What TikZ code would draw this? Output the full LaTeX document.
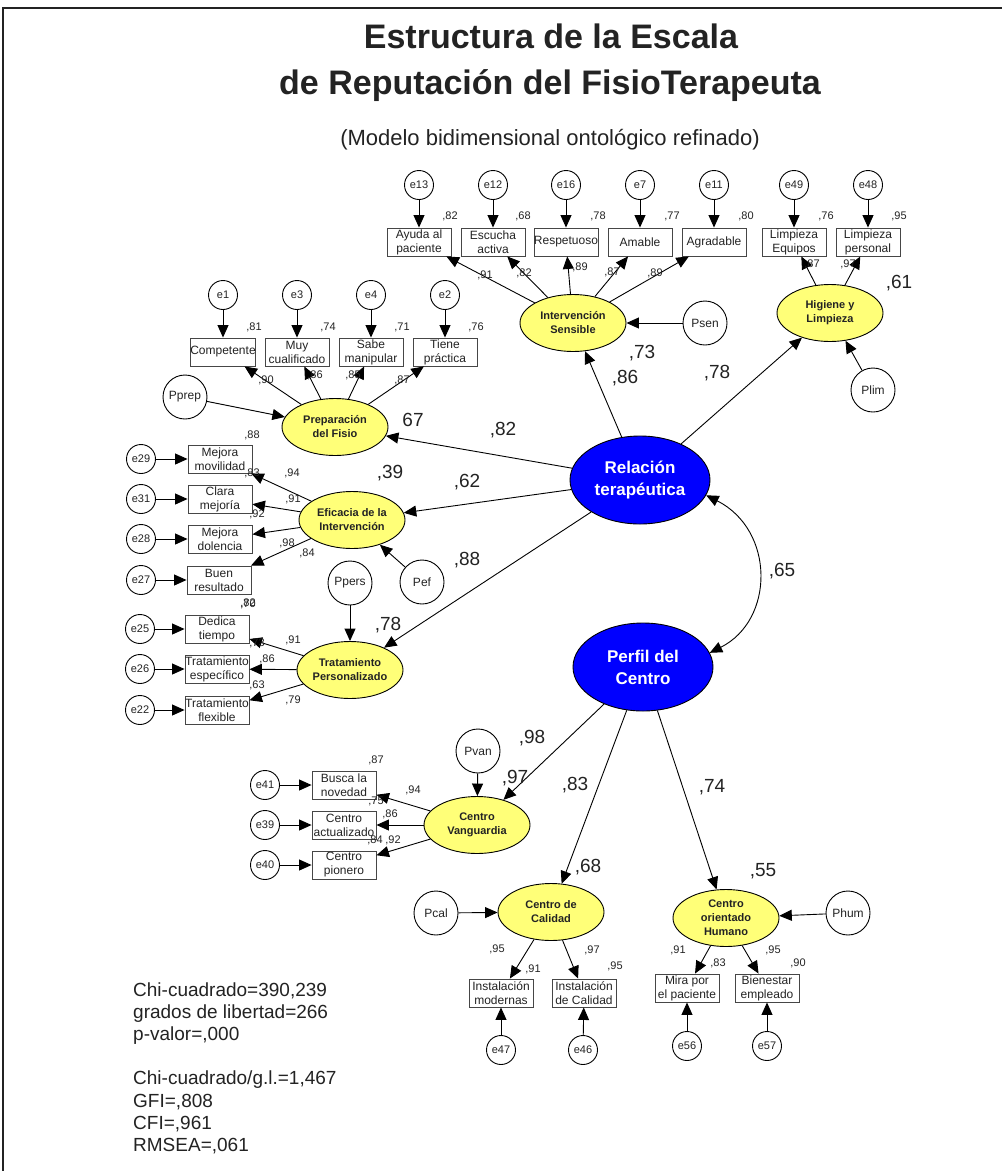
\documentclass[tikz,border=0pt]{standalone}
\usepackage{fontspec}
\setmainfont{Liberation Sans}
\usetikzlibrary{arrows.meta,shapes.geometric}
\definecolor{latfill}{RGB}{255,255,120}
\definecolor{ink}{RGB}{35,35,35}
\definecolor{boxline}{RGB}{70,70,70}

\begin{document}
\begin{tikzpicture}[x=1pt,y=-1pt,
  arr/.style={-{Triangle[length=12.5pt,width=11pt]}, line width=0.9pt, black},
  dbl/.style={{Triangle[length=12.5pt,width=11pt]}-{Triangle[length=12.5pt,width=11pt]}, line width=0.9pt, black},
  lat/.style={ellipse, draw=black, line width=0.9pt, fill=latfill, minimum width=106pt, minimum height=57pt,
    inner sep=0pt, align=center, text=ink, font=\fontsize{11}{14}\selectfont\bfseries},
  big/.style={ellipse, draw=black, line width=0.9pt, fill=blue, minimum width=140pt, minimum height=88pt,
    inner sep=0pt, align=center, text=white, font=\fontsize{17}{22}\selectfont\bfseries},
  obs/.style={rectangle, draw=boxline, line width=0.9pt, fill=white, minimum width=64pt, minimum height=28pt,
    inner sep=0pt, align=center, text=ink, font=\fontsize{12}{14}\selectfont},
  err/.style={circle, draw=black, line width=0.9pt, fill=white, minimum size=29pt, inner sep=0pt,
    text=ink, font=\fontsize{11}{13}\selectfont},
  dist/.style={circle, draw=black, line width=0.9pt, fill=white, minimum size=44pt, inner sep=0pt,
    text=ink, font=\fontsize{12}{14}\selectfont},
  lab/.style={inner sep=0pt, text=ink, font=\fontsize{11}{13}\selectfont},
  blab/.style={inner sep=0pt, text=ink, font=\fontsize{19}{22}\selectfont},
  stat/.style={inner sep=0pt, anchor=base west, text=ink, font=\fontsize{19}{22}\selectfont},
]
\useasboundingbox (0,0) rectangle (1002,1171);
\fill[white] (0,0) rectangle (1002,1171);
\draw[line width=1.6pt, ink] (3,1200) -- (3,8) -- (1030,8);

% ---------- title ----------
\node[inner sep=0pt, anchor=base, text=ink, font=\fontsize{34}{40}\selectfont\bfseries] (t1) at (551,48) {Estructura de la Escala};
\node[inner sep=0pt, anchor=base, text=ink, font=\fontsize{34}{40}\selectfont\bfseries] (t2) at (550,94) {de Reputación del FisioTerapeuta};
\node[inner sep=0pt, anchor=base, text=ink, font=\fontsize{22}{26}\selectfont] (t3) at (550,145) {(Modelo bidimensional ontológico refinado)};

% ---------- second-order factors ----------
\node[big] (RT) at (640,480) {Relación\\terapéutica};
\node[big] (PC) at (643,667) {Perfil del\\Centro};

% ---------- Intervención Sensible ----------
\node[lat] (IS) at (573,323) {Intervención\\Sensible};
\node[obs] (ay) at (419,242) {Ayuda al\\paciente};
\node[obs] (es) at (493,242) {Escucha\\activa};
\node[obs] (rs) at (566,242) {Respetuoso};
\node[obs] (am) at (640,242) {Amable};
\node[obs] (ag) at (714,242) {Agradable};
\node[err] (e13) at (419,185) {e13};
\node[err] (e12) at (493,185) {e12};
\node[err] (e16) at (566,185) {e16};
\node[err] (e7) at (640,185) {e7};
\node[err] (e11) at (714,185) {e11};
\node[dist] (Psen) at (705,323) {Psen};
\foreach \e/\b in {e13/ay,e12/es,e16/rs,e7/am,e11/ag} \draw[arr] (\e) -- (\b);
\foreach \b in {ay,es,rs,am,ag} \draw[arr] (IS) -- (\b);
\draw[arr] (Psen) -- (IS);
\node[lab] at (450,216) {,82};
\node[lab] at (523,216) {,68};
\node[lab] at (598,216) {,78};
\node[lab] at (672,216) {,77};
\node[lab] at (746,216) {,80};
\node[lab] at (485,275) {,91};
\node[lab] at (524,273) {,82};
\node[lab] at (580,267) {,89};
\node[lab] at (612,272) {,87};
\node[lab] at (655,273) {,89};

% ---------- Higiene y Limpieza ----------
\node[lat] (HL) at (830,313) {Higiene y\\Limpieza};
\node[obs] (le) at (794,242) {Limpieza\\Equipos};
\node[obs] (lp) at (868,242) {Limpieza\\personal};
\node[err] (e49) at (794,185) {e49};
\node[err] (e48) at (868,185) {e48};
\node[dist] (Plim) at (873,390) {Plim};
\draw[arr] (e49) -- (le);
\draw[arr] (e48) -- (lp);
\draw[arr] (HL) -- (le);
\draw[arr] (HL) -- (lp);
\draw[arr] (Plim) -- (HL);
\node[lab] at (826,216) {,76};
\node[lab] at (899,216) {,95};
\node[lab] at (812,264) {,87};
\node[lab] at (848,264) {,97};
\node[blab] at (899,283) {,61};

% ---------- Preparación del Fisio ----------
\node[lat] (PF) at (335,427) {Preparación\\del Fisio};
\node[obs] (co) at (223,352) {Competente};
\node[obs] (mc) at (297,352) {Muy\\cualificado};
\node[obs] (sm) at (371,352) {Sabe\\manipular};
\node[obs] (tp) at (445,352) {Tiene\\práctica};
\node[err] (e1) at (223,295) {e1};
\node[err] (e3) at (297,295) {e3};
\node[err] (e4) at (371,295) {e4};
\node[err] (e2) at (445,295) {e2};
\node[dist] (Pprep) at (185,397) {Pprep};
\foreach \e/\b in {e1/co,e3/mc,e4/sm,e2/tp} \draw[arr] (\e) -- (\b);
\foreach \b in {co,mc,sm,tp} \draw[arr] (PF) -- (\b);
\draw[arr] (Pprep) -- (PF);
\node[lab] at (254,327) {,81};
\node[lab] at (328,327) {,74};
\node[lab] at (402,327) {,71};
\node[lab] at (476,327) {,76};
\node[lab] at (266,380) {,90};
\node[lab] at (315,375) {,86};
\node[lab] at (353,375) {,85};
\node[lab] at (402,380) {,87};
\node[blab] at (413,420) {67};
\node[blab] at (503,430) {,82};

% ---------- Eficacia de la Intervención ----------
\node[lat] (EI) at (352,520) {Eficacia de la\\Intervención};
\node[obs] (mm) at (220,459) {Mejora\\movilidad};
\node[obs] (cm) at (220,499) {Clara\\mejoría};
\node[obs] (md) at (220,539) {Mejora\\dolencia};
\node[obs] (br) at (219,580) {Buen\\resultado};
\node[err] (e29) at (141,459) {e29};
\node[err] (e31) at (141,499) {e31};
\node[err] (e28) at (141,539) {e28};
\node[err] (e27) at (141,580) {e27};
\node[dist] (Pef) at (422,582) {Pef};
\foreach \e/\b in {e29/mm,e31/cm,e28/md,e27/br} \draw[arr] (\e) -- (\b);
\foreach \b in {mm,cm,md,br} \draw[arr] (EI) -- (\b);
\draw[arr] (Pef) -- (EI);
\node[lab] at (252,435) {,88};
\node[lab] at (292,473) {,94};
\node[lab] at (252,473) {,83};
\node[lab] at (293,499) {,91};
\node[lab] at (257,514) {,92};
\node[lab] at (287,543) {,98};
\node[lab] at (307,553) {,84};
\node[blab] at (390,473) {,39};
\node[blab] at (467,482) {,62};
\node[blab] at (467,560) {,88};

% ---------- Tratamiento Personalizado ----------
\node[lat] (TP) at (350,670) {Tratamiento\\Personalizado};
\node[obs] (dt) at (217,629) {Dedica\\tiempo};
\node[obs] (te) at (217,669) {Tratamiento\\específico};
\node[obs] (tf) at (217,710) {Tratamiento\\flexible};
\node[err] (e25) at (140,629) {e25};
\node[err] (e26) at (140,669) {e26};
\node[err] (e22) at (140,710) {e22};
\node[dist] (Ppers) at (350,583) {Ppers};
\foreach \e/\b in {e25/dt,e26/te,e22/tf} \draw[arr] (\e) -- (\b);
\foreach \b in {dt,te,tf} \draw[arr] (TP) -- (\b);
\draw[arr] (Ppers) -- (TP);
\node[lab] at (248,603) {,82};
\node[lab] at (248,604) {,70};
\node[lab] at (257,643) {,73};
\node[lab] at (293,640) {,91};
\node[lab] at (267,659) {,86};
\node[lab] at (257,685) {,63};
\node[lab] at (293,700) {,79};
\node[blab] at (388,625) {,78};

% ---------- Relación terapéutica paths ----------
\draw[arr] (RT) -- (IS);
\draw[arr] (RT) -- (HL);
\draw[arr] (RT) -- (PF);
\draw[arr] (RT) -- (EI);
\draw[arr] (RT) -- (TP);
\node[blab] at (642,353) {,73};
\node[blab] at (625,378) {,86};
\node[blab] at (717,373) {,78};

% covariance between the second-order factors
\draw[dbl] (RT.-13) .. controls (775,530) and (775,620) .. (PC.12);
\node[blab] at (782,571) {,65};

% ---------- Centro Vanguardia ----------
\node[lat] (CV) at (477,825) {Centro\\Vanguardia};
\node[obs] (bn) at (344,785) {Busca la\\novedad};
\node[obs] (ca) at (344,825) {Centro\\actualizado};
\node[obs] (cp) at (344,865) {Centro\\pionero};
\node[err] (e41) at (265,785) {e41};
\node[err] (e39) at (265,825) {e39};
\node[err] (e40) at (265,865) {e40};
\node[dist] (Pvan) at (478,751) {Pvan};
\foreach \e/\b in {e41/bn,e39/ca,e40/cp} \draw[arr] (\e) -- (\b);
\foreach \b in {bn,ca,cp} \draw[arr] (CV) -- (\b);
\draw[arr] (Pvan) -- (CV);
\node[lab] at (376,760) {,87};
\node[lab] at (413,790) {,94};
\node[lab] at (376,801) {,75};
\node[lab] at (390,814) {,86};
\node[lab] at (375,840) {,84};
\node[lab] at (393,840) {,92};

% ---------- Centro de Calidad ----------
\node[lat] (CC) at (551,912) {Centro de\\Calidad};
\node[obs] (im) at (501,993) {Instalación\\modernas};
\node[obs] (ic) at (584,993) {Instalación\\de Calidad};
\node[err] (e47) at (501,1050) {e47};
\node[err] (e46) at (583,1050) {e46};
\node[dist] (Pcal) at (436,913) {Pcal};
\draw[arr] (e47) -- (im);
\draw[arr] (e46) -- (ic);
\draw[arr] (CC) -- (im);
\draw[arr] (CC) -- (ic);
\draw[arr] (Pcal) -- (CC);
\node[lab] at (497,949) {,95};
\node[lab] at (533,969) {,91};
\node[lab] at (592,950) {,97};
\node[lab] at (615,966) {,95};

% ---------- Centro orientado Humano ----------
\node[lat] (CH) at (726,918) {Centro\\orientado\\Humano};
\node[obs] (mp) at (687,988) {Mira por\\el paciente};
\node[obs] (be) at (767,988) {Bienestar\\empleado};
\node[err] (e56) at (687,1046) {e56};
\node[err] (e57) at (767,1046) {e57};
\node[dist] (Phum) at (848,913) {Phum};
\draw[arr] (e56) -- (mp);
\draw[arr] (e57) -- (be);
\draw[arr] (CH) -- (mp);
\draw[arr] (CH) -- (be);
\draw[arr] (Phum) -- (CH);
\node[lab] at (678,950) {,91};
\node[lab] at (718,963) {,83};
\node[lab] at (773,950) {,95};
\node[lab] at (798,963) {,90};

% ---------- Perfil del Centro paths ----------
\draw[arr] (PC) -- (CV);
\draw[arr] (PC) -- (CC);
\draw[arr] (PC) -- (CH);
\node[blab] at (532,738) {,98};
\node[blab] at (515,778) {,97};
\node[blab] at (575,785) {,83};
\node[blab] at (712,787) {,74};
\node[blab] at (588,867) {,68};
\node[blab] at (763,871) {,55};

% ---------- fit indices ----------
\node[stat] (s1) at (133,996) {Chi-cuadrado=390,239};
\node[stat] (s2) at (133,1018) {grados de libertad=266};
\node[stat] (s3) at (133,1040) {p-valor=,000};
\node[stat] (s4) at (133,1084) {Chi-cuadrado/g.l.=1,467};
\node[stat] (s5) at (133,1107) {GFI=,808};
\node[stat] (s6) at (133,1129) {CFI=,961};
\node[stat] (s7) at (133,1151) {RMSEA=,061};
\end{tikzpicture}
\end{document}
